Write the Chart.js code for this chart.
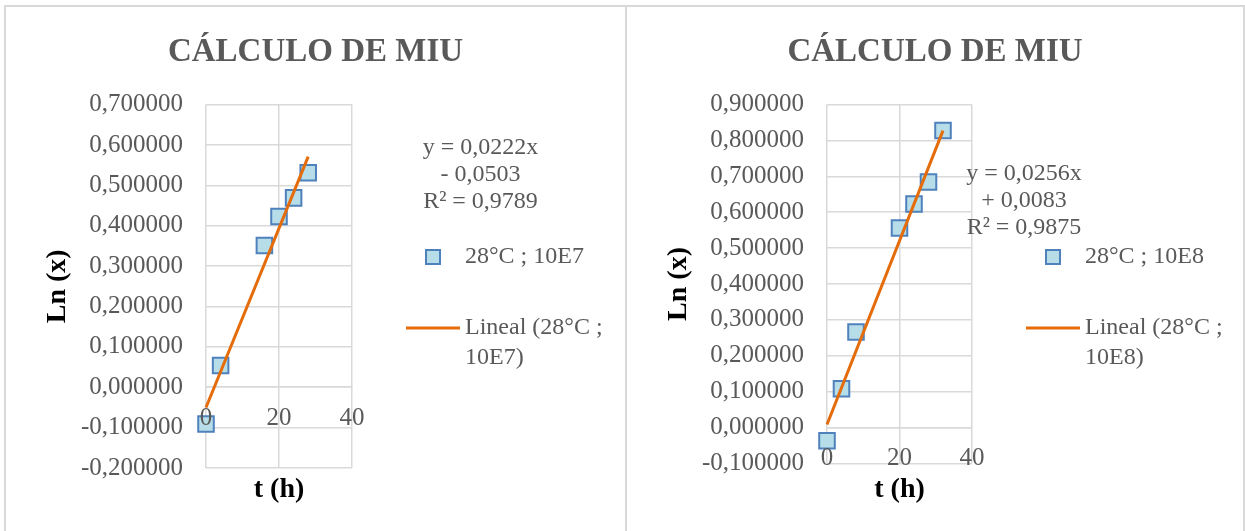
<!DOCTYPE html>
<html>
<head>
<meta charset="utf-8">
<script src="https://cdn.jsdelivr.net/npm/chart.js@4"></script>
<style>
  html, body { margin: 0; padding: 0; background: #fff; }
  body { width: 1245px; height: 531px; position: relative; overflow: hidden; }
  .panel { position: absolute; top: 5px; height: 526px; box-sizing: border-box;
           border: 2px solid #d9d9d9; border-bottom: none; }
  #p1 { left: 4px; width: 623px; }
  #p2 { left: 625px; width: 620px; }
  canvas { position: absolute; top: 0; left: 0; }
</style>
</head>
<body>
<div class="panel" id="p1"><canvas id="c1" width="619" height="524"></canvas></div>
<div class="panel" id="p2"><canvas id="c2" width="616" height="524"></canvas></div>
<script>
// Growth curves: natural log of biomass against time (hours)
const chartTitle = 'CÁLCULO DE MIU';
const seriesNames = ['28°C ; 10E7', '28°C ; 10E8'];

const timesE7 = [0, 4, 16, 20, 24, 28];
const lnE7    = [-0.091, 0.054, 0.351, 0.423, 0.469, 0.531];

const timesE8 = [0, 4, 8, 20, 24, 28, 32];
const lnE8    = [-0.037, 0.108, 0.266, 0.556, 0.623, 0.684, 0.828];

// Linear trendline coefficients shown on each chart
const slopes     = [0.0222, 0.0256];
const intercepts = [-0.0503, 0.0083];
const rSquared   = [0.9789, 0.9875];

// Axis ranges
const xTicks  = [0, 20, 40];
const yRanges = [[-0.2, 0.7], [-0.1, 0.9]];
const yStep   = 0.1;

const GREY = '#595959';
const GRID = '#d9d9d9';
const FAMILY = "'Liberation Serif', 'Times New Roman', serif";

Chart.defaults.font.family = FAMILY;
Chart.defaults.color = GREY;

const fmt4 = v => Math.abs(v).toFixed(4).replace('.', ',');
const fmtTick = v => {
  const r = Math.round(v * 1e6) / 1e6;
  return (r === 0 ? 0 : r).toFixed(6).replace('.', ',');
};

// Legend and trendline equation drawn beside the plot area
const sideLegend = {
  id: 'sideLegend',
  afterDraw(chart, args, o) {
    const { ctx, chartArea } = chart;
    const r = chartArea.right;
    const pts = chart.data.datasets[1];
    const fit = chart.data.datasets[0];
    ctx.save();
    ctx.font = '24px ' + FAMILY;
    ctx.fillStyle = GREY;
    ctx.textBaseline = 'middle';

    // equation block, centred lines
    ctx.textAlign = 'center';
    o.eqLines.forEach((t, i) => ctx.fillText(t, r + o.eqDx, o.eqTop + i * 27));

    // marker entry
    const sq = 14;
    ctx.fillStyle = pts.backgroundColor;
    ctx.strokeStyle = pts.borderColor;
    ctx.lineWidth = 2;
    ctx.beginPath();
    ctx.rect(r + 81 - sq / 2, o.markY - sq / 2, sq, sq);
    ctx.fill(); ctx.stroke();
    ctx.fillStyle = GREY;
    ctx.textAlign = 'left';
    ctx.fillText(pts.label, r + 113, o.markY);

    // trendline entry
    ctx.strokeStyle = fit.borderColor;
    ctx.lineWidth = 3;
    ctx.beginPath();
    ctx.moveTo(r + 54, o.lineY);
    ctx.lineTo(r + 108, o.lineY);
    ctx.stroke();
    const maxW = chart.width - (r + 113) - 6;
    const words = fit.label.split(' ');
    const lines = [];
    let cur = '';
    words.forEach(w => {
      const test = cur ? cur + ' ' + w : w;
      if (ctx.measureText(test).width > maxW && cur) { lines.push(cur); cur = w; }
      else cur = test;
    });
    if (cur) lines.push(cur);
    lines.forEach((t, i) => ctx.fillText(t, r + 113, o.lineY + i * 30));
    ctx.restore();
  }
};

function makeChart(id, idx, times, values, layout) {
  const slope = slopes[idx], icpt = intercepts[idx];
  const tMin = Math.min(...times), tMax = Math.max(...times);
  const trend = [tMin, tMax].map(t => ({ x: t, y: slope * t + icpt }));
  const eqLines = [
    'y = ' + (slope < 0 ? '-' : '') + fmt4(slope) + 'x',
    (icpt < 0 ? '- ' : '+ ') + fmt4(icpt),
    'R² = ' + fmt4(rSquared[idx])
  ];
  return new Chart(document.getElementById(id), {
    type: 'scatter',
    data: {
      datasets: [
        {
          label: 'Lineal (' + seriesNames[idx] + ')',
          type: 'line',
          data: trend,
          borderColor: '#E46C0A',
          backgroundColor: '#E46C0A',
          borderWidth: 3,
          pointRadius: 0,
          fill: false,
          clip: false,
          order: 0,
          xAxisID: 'x', yAxisID: 'y'
        },
        {
          label: seriesNames[idx],
          data: times.map((t, i) => ({ x: t, y: values[i] })),
          pointStyle: 'rect',
          pointRadius: 11,
          backgroundColor: '#B7DEE8',
          borderColor: '#4F81BD',
          borderWidth: 2,
          clip: false,
          order: 1,
          xAxisID: 'x', yAxisID: 'y'
        }
      ]
    },
    options: {
      responsive: false,
      animation: false,
      events: [],
      layout: { padding: 0 },
      plugins: {
        legend: { display: false },
        tooltip: { enabled: false },
        title: {
          display: true, text: chartTitle, color: GREY,
          font: { size: 33, weight: 'bold' },
          padding: { top: 26, bottom: 32 }
        },
        sideLegend: { eqLines, eqDx: layout.eqDx, eqTop: layout.eqTop, markY: layout.markY, lineY: layout.lineY }
      },
      scales: {
        x: {
          type: 'linear',
          position: { y: 0 },
          min: xTicks[0], max: xTicks[xTicks.length - 1],
          afterBuildTicks: s => { s.ticks = xTicks.map(v => ({ value: v })); },
          grid: { color: GRID, lineWidth: 1.5, drawTicks: false },
          border: { color: GRID, width: 1.5 },
          ticks: { font: { size: 25 }, color: GREY, padding: 16, z: 1, maxRotation: 0 }
        },
        xt: {
          type: 'linear',
          position: 'bottom',
          min: xTicks[0], max: xTicks[xTicks.length - 1],
          grid: { display: false },
          border: { display: false },
          ticks: { display: false },
          afterFit: s => { s.height = layout.bottomH; },
          title: {
            display: true, text: 't (h)', color: '#000',
            font: { size: 28, weight: 'bold' },
            padding: { top: 0, bottom: 24 }
          }
        },
        y: {
          type: 'linear',
          position: 'left',
          min: yRanges[idx][0], max: yRanges[idx][1],
          ticks: { stepSize: yStep, font: { size: 25 }, color: GREY, padding: 23, callback: v => fmtTick(v) },
          grid: { color: GRID, lineWidth: 1.5, drawTicks: false },
          border: { display: false },
          afterFit: s => { s.width = 200; },
          title: {
            display: true, text: 'Ln (x)', color: '#000',
            font: { size: 28, weight: 'bold' },
            padding: { top: 35, bottom: 0 }
          }
        },
        // empty band on the right that holds the legend and equation
        side: {
          type: 'linear',
          position: 'right',
          display: true,
          grid: { display: false },
          border: { display: false },
          ticks: { display: false },
          afterFit: s => { s.width = layout.rightW; }
        }
      }
    },
    plugins: [sideLegend]
  });
}

makeChart('c1', 0, timesE7, lnE7, { rightW: 273, bottomH: 63, eqDx: 128.5, eqTop: 141, markY: 250, lineY: 321 });
makeChart('c2', 1, timesE8, lnE8, { rightW: 271, bottomH: 67.7, eqDx: 52, eqTop: 167, markY: 250, lineY: 321 });
</script>
</body>
</html>
